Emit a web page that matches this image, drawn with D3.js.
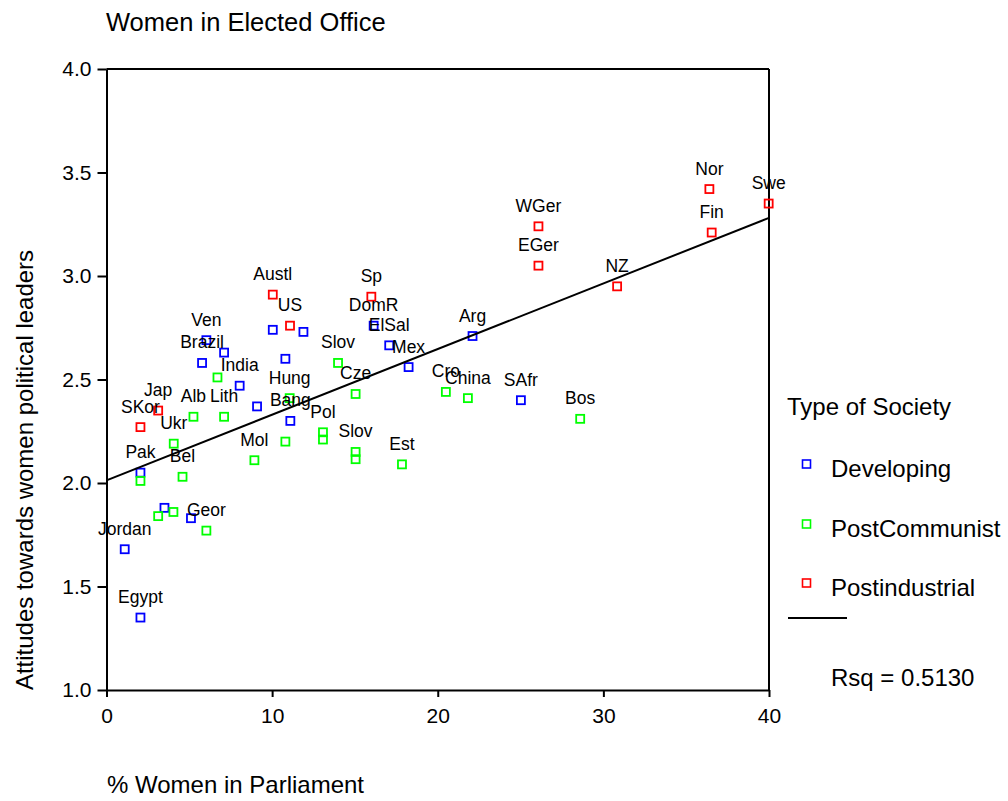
<!DOCTYPE html>
<html>
<head>
  <title>Women in Elected Office</title>
  <meta charset="utf-8">
  <style>
    body { margin: 0; background: #fff; }
    svg { font-family: "Liberation Sans", Arial, sans-serif; }
    .axis path, .axis line { stroke: #000; stroke-width: 2; }
    .axis text { font-size: 21px; fill: #000; }
  </style>
  <script type="text/javascript" src="https://d3js.org/d3.v7.min.js"></script>
</head>
<body>
  <div id="chart"></div>

  <script type="text/javascript">
    // values
    const developingLabels = ['Jordan', 'Egypt', 'Pak', '', '', 'Brazil', 'Ven', '', 'India', '', '',
      '', 'Bang', '', 'DomR', 'ElSal', 'Mex', 'Arg', 'SAfr'];
    const developingPct = [1.1, 2.05, 2.05, 3.5, 5.1, 5.77, 6.03, 7.1, 8.04, 9.09, 10.04,
      10.8, 11.1, 11.89, 16.13, 17.07, 18.24, 22.1, 25.02];
    const developingAtt = [1.68, 1.35, 2.05, 1.88, 1.83, 2.58, 2.69, 2.63, 2.47, 2.37, 2.74,
      2.60, 2.30, 2.73, 2.76, 2.665, 2.56, 2.71, 2.40];

    const postCommLabels = ['', '', '', 'Bel', 'Ukr', 'Geor', 'Alb', 'Lith', '', 'Mol', '',
      'Hung', 'Pol', '', 'Slov', '', 'Slov', 'Cze', 'Est', 'Cro', 'China', 'Bos'];
    const postCommPct = [2.05, 3.12, 4.04, 4.59, 4.06, 6.03, 5.25, 7.1, 6.7, 8.93, 10.8,
      11.06, 13.07, 13.07, 15.04, 15.04, 13.98, 15.04, 17.84, 20.49, 21.82, 28.6];
    const postCommAtt = [2.01, 1.84, 1.86, 2.03, 2.19, 1.77, 2.32, 2.32, 2.51, 2.11, 2.20,
      2.41, 2.245, 2.21, 2.15, 2.115, 2.58, 2.43, 2.09, 2.44, 2.41, 2.31];

    const postIndLabels = ['SKor', 'Jap', 'Austl', 'US', 'Sp', 'WGer', 'EGer', 'NZ', 'Nor', 'Fin', 'Swe'];
    const postIndPct = [2.05, 3.12, 10.04, 11.08, 15.99, 26.08, 26.08, 30.83, 36.4, 36.54, 39.98];
    const postIndAtt = [2.27, 2.35, 2.91, 2.76, 2.90, 3.24, 3.05, 2.95, 3.42, 3.21, 3.35];

    const societyTypes = ['Developing', 'PostCommunist', 'Postindustrial'];
    const societyColors = ['#0000ff', '#00ff00', '#ff0000'];

    // linear fit shown on the chart
    const fitIntercept = 2.013;
    const fitSlope = 0.0317;
    const rsq = 0.5130;

    const xTicks = [0, 10, 20, 30, 40];
    const yTicks = [1.0, 1.5, 2.0, 2.5, 3.0, 3.5, 4.0];

    const groups = [
      { labels: developingLabels, x: developingPct, y: developingAtt },
      { labels: postCommLabels, x: postCommPct, y: postCommAtt },
      { labels: postIndLabels, x: postIndPct, y: postIndAtt }
    ];

    const W = 1008, H = 801;
    const margin = { top: 69, right: 239, bottom: 111, left: 106.5 };
    const width = W - margin.left - margin.right;
    const height = H - margin.top - margin.bottom;

    const x = d3.scaleLinear().domain([0, 40]).range([0, width]);
    const y = d3.scaleLinear().domain([1, 4]).range([height, 0]);

    const svg = d3.select('#chart')
      .append('svg')
        .attr('width', W)
        .attr('height', H);

    svg.append('text')
      .attr('x', 106)
      .attr('y', 31)
      .style('font-size', '25.5px')
      .text('Women in Elected Office');

    const g = svg.append('g')
      .attr('transform', `translate(${margin.left}, ${margin.top})`);

    // frame top and right
    g.append('line')
      .attr('x1', 0).attr('x2', width).attr('y1', 0).attr('y2', 0)
      .attr('stroke', '#000').attr('stroke-width', 2);
    g.append('line')
      .attr('x1', width).attr('x2', width).attr('y1', 0).attr('y2', height)
      .attr('stroke', '#000').attr('stroke-width', 2);

    g.append('g')
      .attr('class', 'axis')
      .attr('transform', `translate(0, ${height})`)
      .call(d3.axisBottom(x).tickValues(xTicks).tickSize(7).tickSizeOuter(0).tickPadding(11))
      .call(a => a.selectAll('text').attr('dy', '0.72em'));

    g.append('g')
      .attr('class', 'axis')
      .call(d3.axisLeft(y).tickValues(yTicks).tickFormat(d3.format('.1f'))
        .tickSize(9).tickSizeOuter(0).tickPadding(6));

    // points
    const box = 8;
    groups.forEach((grp, i) => {
      g.append('g')
        .selectAll('rect')
        .data(grp.x)
        .join('rect')
          .attr('x', (d, j) => x(d) - box / 2)
          .attr('y', (d, j) => y(grp.y[j]) - box / 2)
          .attr('width', box)
          .attr('height', box)
          .attr('fill', 'none')
          .attr('stroke', societyColors[i])
          .attr('stroke-width', 1.8);
    });

    // fit line
    const line = d3.line()
      .x(d => x(d))
      .y(d => y(fitIntercept + fitSlope * d));
    g.append('path')
      .datum([0, 40])
      .attr('d', line)
      .attr('fill', 'none')
      .attr('stroke', '#000')
      .attr('stroke-width', 2);

    // point labels
    groups.forEach(grp => {
      g.append('g')
        .selectAll('text')
        .data(grp.labels)
        .join('text')
          .attr('x', (d, j) => x(grp.x[j]))
          .attr('y', (d, j) => y(grp.y[j]) - 14.5)
          .attr('text-anchor', 'middle')
          .style('font-size', '17.5px')
          .text(d => d);
    });

    // axis titles
    svg.append('text')
      .attr('x', 107)
      .attr('y', 793)
      .style('font-size', '24px')
      .text('% Women in Parliament');

    svg.append('text')
      .attr('transform', 'translate(33, 470) rotate(-90)')
      .attr('text-anchor', 'middle')
      .style('font-size', '24px')
      .text('Attitudes towards women political leaders');

    // legend
    const legend = svg.append('g');
    legend.append('text')
      .attr('x', 787)
      .attr('y', 415)
      .style('font-size', '24px')
      .text('Type of Society');

    const rowY = [464, 524, 583];
    societyTypes.forEach((name, i) => {
      legend.append('rect')
        .attr('x', 806.5 - box / 2)
        .attr('y', rowY[i] - box / 2)
        .attr('width', box)
        .attr('height', box)
        .attr('fill', 'none')
        .attr('stroke', societyColors[i])
        .attr('stroke-width', 1.6);
      legend.append('text')
        .attr('x', 831)
        .attr('y', rowY[i] + 13)
        .style('font-size', '24px')
        .text(name);
    });

    legend.append('line')
      .attr('x1', 788).attr('x2', 847).attr('y1', 618).attr('y2', 618)
      .attr('stroke', '#000').attr('stroke-width', 2);

    legend.append('text')
      .attr('x', 831)
      .attr('y', 686)
      .style('font-size', '24px')
      .text('Rsq = ' + rsq.toFixed(4));
  </script>
</body>
</html>
